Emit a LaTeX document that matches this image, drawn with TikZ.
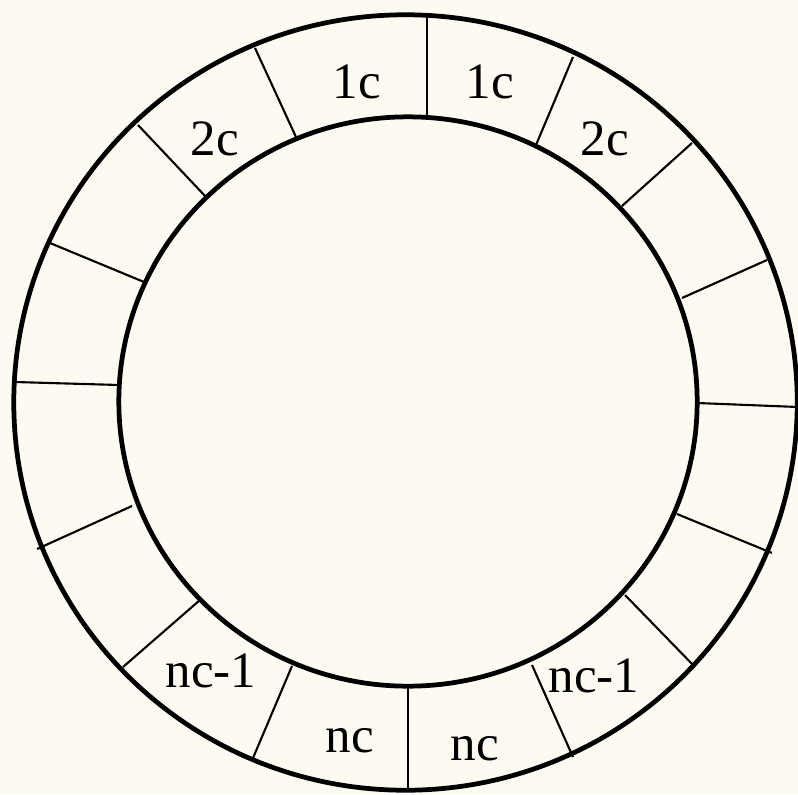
\documentclass[tikz,border=0pt]{standalone}
\usepackage{fontspec}
\setmainfont{Liberation Serif}
\usepackage{tikz}
\usetikzlibrary{positioning}
\definecolor{paper}{RGB}{252,250,241}

\begin{document}
\begin{tikzpicture}[x=0.01cm, y=-0.01cm,
    ring/.style={line width=1.35pt},
    divider/.style={line width=0.6pt},
    slot/.style={anchor=base, inner sep=0pt, font=\fontsize{14.5}{17}\selectfont}]
    % Background
    \fill[paper] (0,0) rectangle (798,794);
    \useasboundingbox (0,0) rectangle (798,794);

    % Ring
    \coordinate (outer) at (405.5,402.5);
    \coordinate (inner) at (408,401.5);
    \draw[ring] (outer) ellipse [x radius=3.915cm, y radius=3.875cm];
    \draw[ring] (inner) ellipse [x radius=2.89cm, y radius=2.845cm];

    % Dividers between the slots
    \foreach \ax/\ay/\bx/\by in {427/15/427/117, 573/57/536/145, 692/143/622/206,
        767/260/682/298, 798/407/697/403, 772/553/677/514, 695/667/625/595,
        573/757/532/665, 408/790/408/687, 253/758/292/666, 123/667/200/600,
        37/549/132/506, 15/382/119/385, 50/243/144/282, 138/125/206/197,
        255/48/296/137}
        \draw[divider] (\ax,\ay) -- (\bx,\by);

    % Slot labels
    \node[slot] (oneL) at (357,98) {1c};
    \node[slot] (oneR) at (490,98) {1c};
    \node[slot] (twoL) at (215,155) {2c};
    \node[slot] (twoR) at (605,155) {2c};
    \node[slot] (lastbutL) at (211,687) {nc-1};
    \node[slot] (lastbutR) at (594,692) {nc-1};
    \node[slot] (lastL) at (350,752) {nc};
    \node[slot] (lastR) at (475,760) {nc};
\end{tikzpicture}
\end{document}
